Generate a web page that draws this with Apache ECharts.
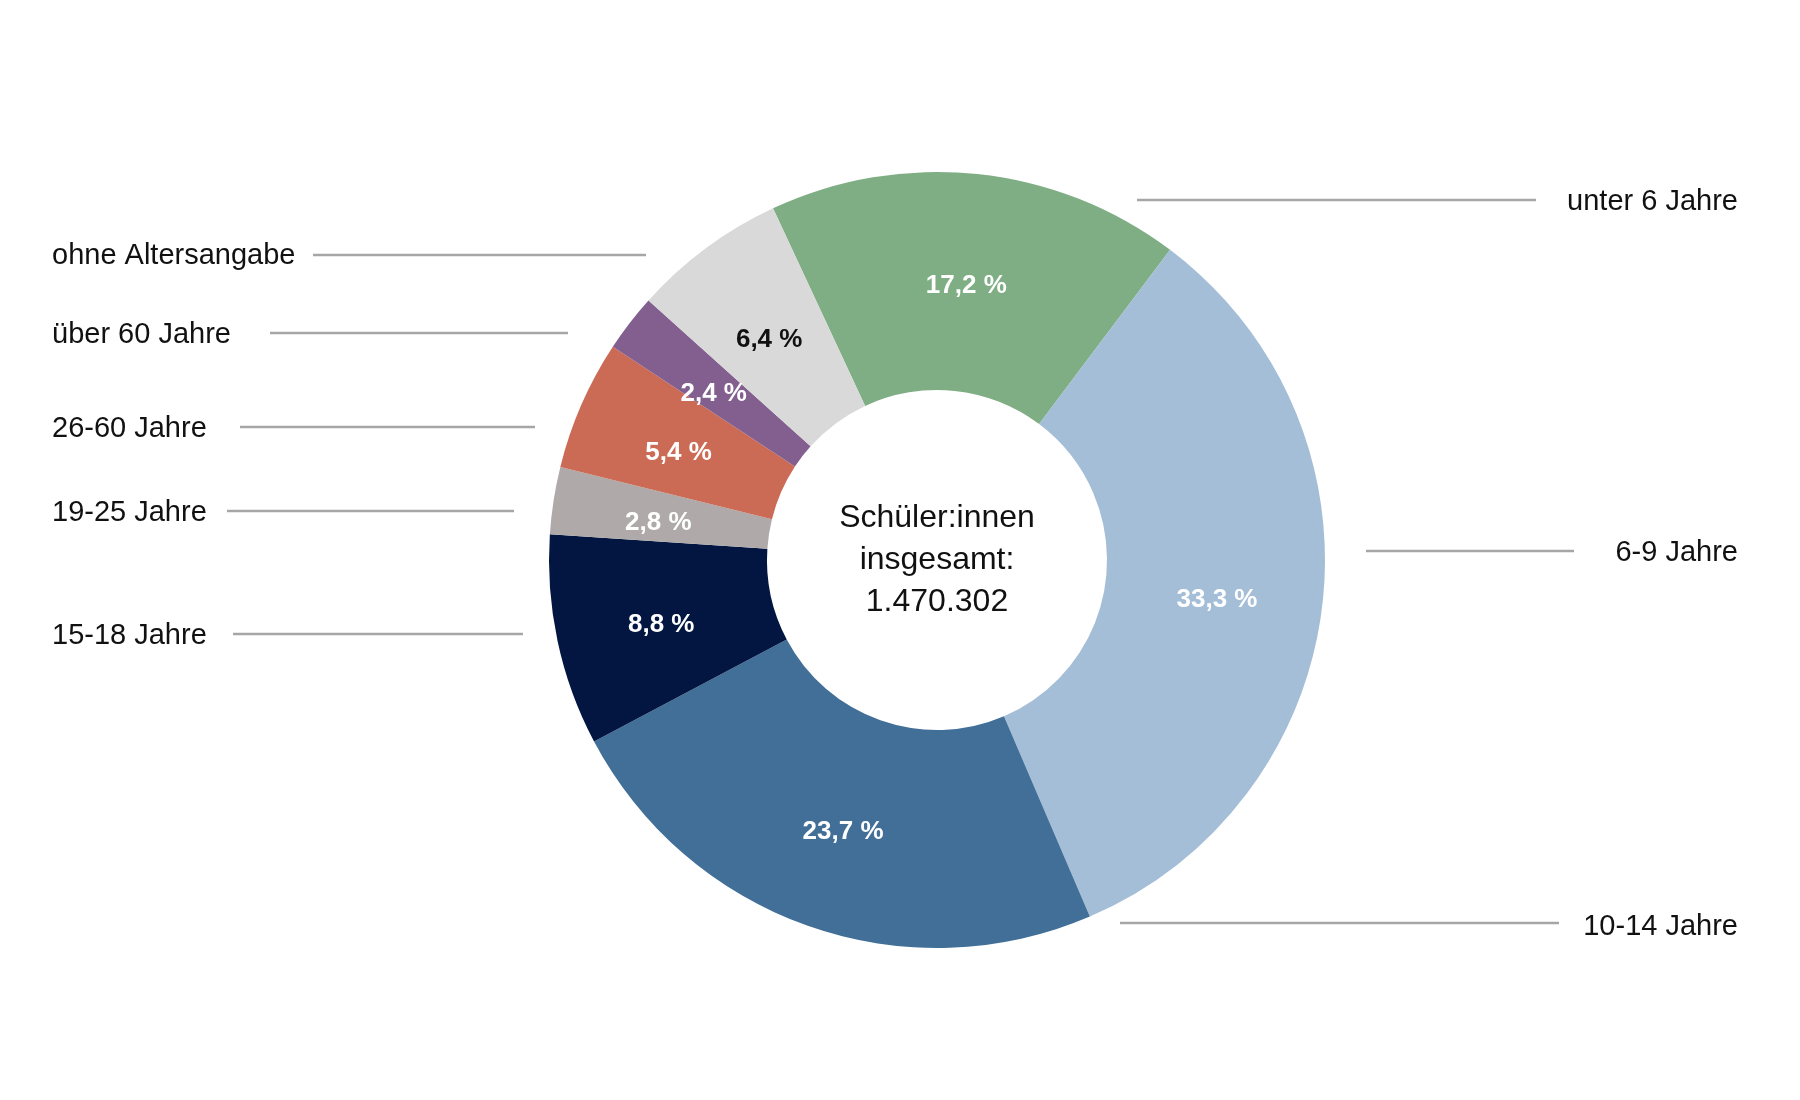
<!DOCTYPE html>
<html>
<head>
<meta charset="utf-8">
<script src="https://cdn.jsdelivr.net/npm/echarts@6/dist/echarts.min.js"></script>
<style>
  html, body { margin: 0; padding: 0; background: #ffffff; }
  #chart { width: 1800px; height: 1100px; }
</style>
</head>
<body>
<div id="chart"></div>
<script>
// ---- data ----
const categories = ['unter 6 Jahre', '6-9 Jahre', '10-14 Jahre', '15-18 Jahre', '19-25 Jahre', '26-60 Jahre', 'über 60 Jahre', 'ohne Altersangabe'];
const shares = [17.2, 33.3, 23.7, 8.8, 2.8, 5.4, 2.4, 6.4];
const centerLines = ['Schüler:innen', 'insgesamt:', '1.470.302'];

// ---- styles ----
const sliceColors = ['#7FAE84', '#A4BED8', '#416F98', '#021641', '#AFAAA9', '#CB6B55', '#835F90', '#D9D9D9'];
const innerLabelColors = ['#ffffff', '#ffffff', '#ffffff', '#ffffff', '#ffffff', '#ffffff', '#ffffff', '#111111'];
// outer label layout: [labelX, labelY, align, lineStartX, lineEndX, lineY]
const outerLayout = [
  [1738, 202, 'right', 1137, 1536, 200],
  [1738, 553, 'right', 1366, 1574, 551],
  [1738, 927, 'right', 1120, 1559, 923],
  [52, 636, 'left', 233, 523, 634],
  [52, 513, 'left', 227, 514, 511],
  [52, 429, 'left', 240, 535, 427],
  [52, 335, 'left', 270, 568, 333],
  [52, 256, 'left', 313, 646, 255]
];
const FONT = '"Liberation Sans", Arial, sans-serif';
const pieCenter = [937, 560];
const pieRadius = [170, 388];

const innerData = categories.map((c, i) => ({
  name: c,
  value: shares[i],
  itemStyle: { color: sliceColors[i] },
  label: { color: innerLabelColors[i] }
}));
const outerData = categories.map((c, i) => ({ name: c, value: shares[i] }));

const chart = echarts.init(document.getElementById('chart'), null, { renderer: 'canvas' });
chart.setOption({
  backgroundColor: '#ffffff',
  animation: false,
  series: [
    {
      type: 'pie',
      center: pieCenter,
      radius: pieRadius,
      startAngle: 115,
      clockwise: true,
      silent: true,
      avoidLabelOverlap: false,
      itemStyle: { borderWidth: 0 },
      label: {
        show: true,
        position: 'inside',
        fontFamily: FONT,
        fontSize: 26,
        fontWeight: 'bold',
        offset: [0, 6],
        formatter: p => p.value.toFixed(1).replace('.', ',') + ' %'
      },
      labelLine: { show: false },
      emphasis: { disabled: true },
      data: innerData
    },
    {
      type: 'pie',
      center: pieCenter,
      radius: pieRadius,
      startAngle: 115,
      clockwise: true,
      silent: true,
      avoidLabelOverlap: false,
      itemStyle: { color: 'rgba(0,0,0,0)', borderWidth: 0 },
      label: {
        show: true,
        position: 'outside',
        fontFamily: FONT,
        fontSize: 29,
        color: '#111111',
        formatter: p => p.name
      },
      labelLine: { show: true, lineStyle: { color: '#A6A6A6', width: 2.5 } },
      labelLayout: function (p) {
        const o = outerLayout[p.dataIndex];
        return {
          x: o[0],
          y: o[1],
          align: o[2],
          verticalAlign: 'middle',
          labelLinePoints: [[o[3], o[5]], [(o[3] + o[4]) / 2, o[5]], [o[4], o[5]]]
        };
      },
      emphasis: { disabled: true },
      data: outerData
    }
  ],
  graphic: [
    {
      type: 'text',
      x: pieCenter[0],
      y: pieCenter[1],
      silent: true,
      style: {
        text: centerLines.join('\n'),
        align: 'center',
        verticalAlign: 'middle',
        fontFamily: FONT,
        fontSize: 32,
        lineHeight: 42,
        fill: '#111111'
      }
    }
  ]
});
</script>
</body>
</html>
